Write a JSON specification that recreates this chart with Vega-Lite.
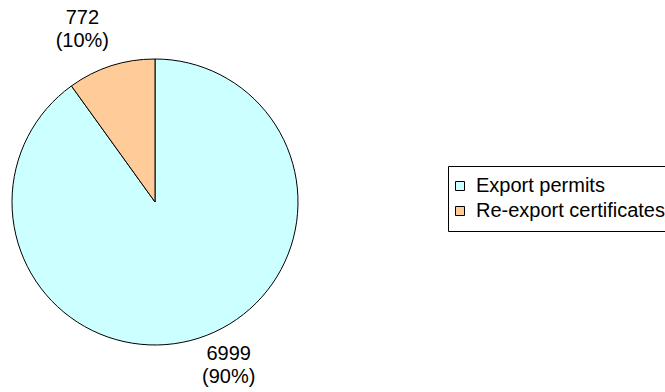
{
  "$schema": "https://vega.github.io/schema/vega-lite/v6.json",
  "width": 310,
  "height": 380,
  "autosize": {"type": "none"},
  "padding": {"left": 0, "top": 12, "right": 355, "bottom": 0},
  "background": "white",
  "config": {"view": {"stroke": null}, "font": "Liberation Sans"},
  "data": {
    "values": [
      {"category": "Export permits", "count": 6999, "label": "6999\n(90%)"},
      {"category": "Re-export certificates", "count": 772, "label": "772\n(10%)"}
    ]
  },
  "encoding": {
    "theta": {"field": "count", "type": "quantitative", "stack": true}
  },
  "layer": [
    {
      "mark": {"type": "arc", "outerRadius": 143, "stroke": "black", "strokeWidth": 1},
      "encoding": {
        "color": {
          "field": "category",
          "type": "nominal",
          "scale": {"domain": ["Export permits", "Re-export certificates"], "range": ["#CCFFFF", "#FFCC99"]},
          "legend": {
            "title": null,
            "orient": "none",
            "legendX": 448,
            "legendY": 154,
            "strokeColor": "black",
            "padding": 10,
            "symbolType": "square",
            "symbolSize": 81,
            "symbolOffset": -8,
            "symbolStrokeColor": "black",
            "symbolStrokeWidth": 1,
            "symbolOpacity": 1,
            "labelFont": "Liberation Sans",
            "labelFontSize": 20,
            "labelColor": "black",
            "labelOffset": 6,
            "labelLimit": 400,
            "rowPadding": 5,
            "fillColor": "white"
          }
        }
      }
    },
    {
      "mark": {"type": "text", "radius": 178, "dx": -18, "dy": -15, "lineBreak": "\n", "lineHeight": 23, "fontSize": 20, "font": "Liberation Sans", "color": "black", "align": "center", "baseline": "middle"},
      "encoding": {
        "detail": {"field": "category", "type": "nominal"},
        "text": {"condition": {"test": "datum.category == 'Re-export certificates'", "field": "label"}, "value": ""}
      }
    },
    {
      "mark": {"type": "text", "radius": 178, "dx": 19, "dy": -17, "lineBreak": "\n", "lineHeight": 23, "fontSize": 20, "font": "Liberation Sans", "color": "black", "align": "center", "baseline": "middle"},
      "encoding": {
        "detail": {"field": "category", "type": "nominal"},
        "text": {"condition": {"test": "datum.category == 'Export permits'", "field": "label"}, "value": ""}
      }
    }
  ]
}
